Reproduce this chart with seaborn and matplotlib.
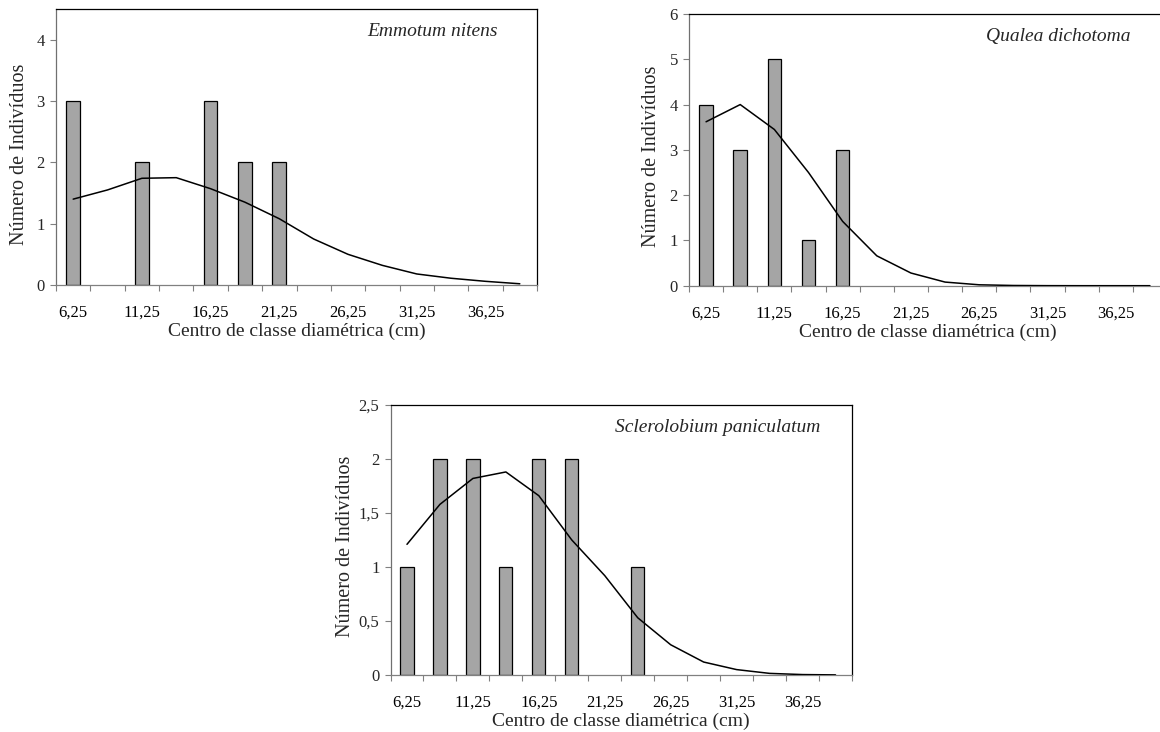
import numpy as np
import matplotlib
matplotlib.use("Agg")
import matplotlib.pyplot as plt
import seaborn as sns
from matplotlib.ticker import FixedLocator

# ---------------- data ----------------
categories = ["6,25", "8,75", "11,25", "13,75", "16,25", "18,75", "21,25",
              "23,75", "26,25", "28,75", "31,25", "33,75", "36,25", "38,75"]
xtick_labels = ["6,25", "11,25", "16,25", "21,25", "26,25", "31,25", "36,25"]

emmotum_counts = [3, 0, 2, 0, 3, 2, 2, 0, 0, 0, 0, 0, 0, 0]
emmotum_curve = [1.40, 1.55, 1.74, 1.75, 1.57, 1.35, 1.08, 0.75, 0.50, 0.32,
                 0.18, 0.11, 0.06, 0.02]

qualea_counts = [4, 3, 5, 1, 3, 0, 0, 0, 0, 0, 0, 0, 0, 0]
qualea_curve = [3.62, 4.00, 3.45, 2.50, 1.42, 0.66, 0.28, 0.08, 0.02, 0.005,
                0.001, 0.0, 0.0, 0.0]

sclero_counts = [1, 2, 2, 1, 2, 2, 0, 1, 0, 0, 0, 0, 0, 0]
sclero_curve = [1.21, 1.58, 1.82, 1.88, 1.66, 1.25, 0.92, 0.53, 0.28, 0.12,
                0.05, 0.015, 0.004, 0.001]

species = ["Emmotum nitens", "Qualea dichotoma", "Sclerolobium paniculatum"]
y_ticks = [[0, 1, 2, 3, 4], [0, 1, 2, 3, 4, 5, 6], [0, 0.5, 1, 1.5, 2, 2.5]]
y_tick_labels = [["0", "1", "2", "3", "4"],
                 ["0", "1", "2", "3", "4", "5", "6"],
                 ["0", "0,5", "1", "1,5", "2", "2,5"]]
y_max = [4.5, 6, 2.5]

x_label = "Centro de classe diamétrica (cm)"
y_label = "Número de Indivíduos"

# ---------------- style ----------------
sns.set_theme(style="white")
plt.rcParams["font.family"] = ["Liberation Serif", "DejaVu Serif"]

W, H = 1160, 732
fig = plt.figure(figsize=(W / 100, H / 100), dpi=100)
fig.patch.set_facecolor("white")

# axes boxes in pixels: left, top, right, bottom
boxes = [(56, 9, 537, 285), (689, 14, 1167, 285.7), (390.5, 405, 852, 675)]
ylab_x_px = [20, 652, 345]
label_gap_px = [39, 36, 32]

counts_all = [emmotum_counts, qualea_counts, sclero_counts]
curves_all = [emmotum_curve, qualea_curve, sclero_curve]

for k in range(3):
    l, t, r, b = boxes[k]
    ax = fig.add_axes([l / W, (H - b) / H, (r - l) / W, (b - t) / H])
    ax.set_facecolor("white")
    vals = np.array(counts_all[k], dtype=float)
    vals_plot = np.where(vals > 0, vals, np.nan)
    sns.barplot(x=categories, y=vals_plot, order=categories, color="#a5a5a5",
                saturation=1, edgecolor="black", linewidth=0.9, width=0.4,
                ax=ax, zorder=2)
    xpos = np.arange(len(categories))
    ax.plot(xpos, curves_all[k], color="black", lw=1.1, zorder=3,
            solid_joinstyle="round")

    ax.set_xlim(-0.5, len(categories) - 0.5)
    ax.set_ylim(0, y_max[k])

    # x ticks: labels every second class, tick marks at class boundaries
    ax.set_xticks(np.arange(0, len(categories), 2))
    ax.set_xticklabels(xtick_labels, fontsize=12)
    ax.xaxis.set_minor_locator(FixedLocator(np.arange(-0.5, len(categories), 1)))
    ax.tick_params(axis="x", which="major", length=0, pad=14, colors="black",
                   labelsize=12)
    ax.tick_params(axis="x", which="minor", length=4, width=0.8,
                   color="#808080", direction="out", bottom=True)

    ax.set_yticks(y_ticks[k])
    ax.set_yticklabels(y_tick_labels[k], fontsize=12)
    ax.tick_params(axis="y", which="major", length=4, width=0.8,
                   color="#808080", direction="out", left=True, pad=4,
                   labelsize=12)

    for side in ["top", "right"]:
        ax.spines[side].set_color("black")
        ax.spines[side].set_linewidth(0.9)
    ax.spines["left"].set_color("#707070")
    ax.spines["bottom"].set_color("#808080")
    ax.spines["left"].set_linewidth(0.9)
    ax.spines["bottom"].set_linewidth(0.9)

    hpx = b - t
    wpx = r - l
    ax.set_xlabel(x_label, fontsize=14)
    ax.xaxis.label.set_va("center")
    ax.xaxis.set_label_coords(0.5, -46.7 / hpx)
    ax.set_ylabel(y_label, fontsize=14.5)
    ax.yaxis.label.set_va("center")
    ax.yaxis.set_label_coords((ylab_x_px[k] - l) / wpx, 0.475)

    ax.annotate(species[k], xy=(1, 1), xycoords="axes fraction",
                xytext=(-label_gap_px[k] * 0.72, -22.5 * 0.72),
                textcoords="offset points", ha="right", va="center",
                fontsize=14, style="italic")

fig.savefig("out.png", dpi=100, facecolor="white")
